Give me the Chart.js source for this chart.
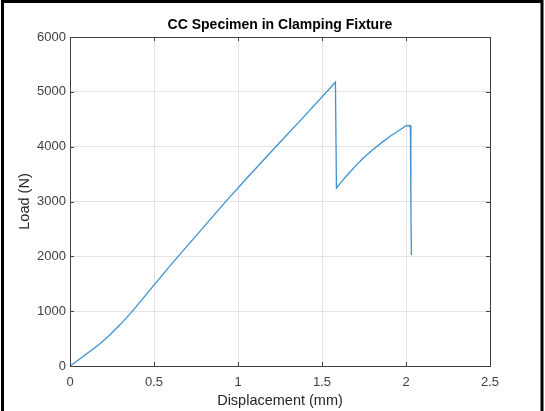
<!DOCTYPE html>
<html>
<head>
<meta charset="utf-8">
<script src="https://cdn.jsdelivr.net/npm/chart.js@4/dist/chart.umd.min.js"></script>
<style>
  html, body { margin: 0; padding: 0; background: #fff; }
  #wrap { position: relative; width: 545px; height: 411px; }
</style>
</head>
<body>
<div id="wrap"><canvas id="plot" width="545" height="411"></canvas></div>
<script>
// valores
const displacement = [0, 0.04, 0.083, 0.13, 0.18, 0.24, 0.3, 0.36, 0.43, 0.5, 0.58, 0.653, 0.791, 0.932, 1.052,
  1.218, 1.387, 1.58,
  1.586, 1.62, 1.66, 1.70, 1.74, 1.80, 1.863, 1.91, 1.962, 1.985, 1.998, 2.026, 2.029, 2.032];
const load = [0, 85, 185, 290, 410, 575, 760, 960, 1215, 1475, 1770, 2030, 2520, 3015, 3425,
  3975, 4530, 5175,
  3245, 3375, 3515, 3650, 3775, 3940, 4092, 4198, 4303, 4350, 4380, 4386, 3000, 2024];
const xTicks = [0, 0.5, 1, 1.5, 2, 2.5];
const yTicks = [0, 1000, 2000, 3000, 4000, 5000, 6000];

const points = displacement.map((d, i) => ({ x: d, y: load[i] }));
const FONT = 'Liberation Sans, Arial, Helvetica, sans-serif';

// marco exterior, titulo, caja de ejes y marcas hacia dentro (estilo MATLAB)
const matlabBox = {
  id: 'matlabBox',
  afterDatasetsDraw(chart) {
    const { ctx, chartArea: a, scales } = chart;
    ctx.save();
    ctx.strokeStyle = '#404040';
    ctx.lineWidth = 1;
    ctx.strokeRect(a.left + 0.5, a.top + 0.5, a.right - a.left, a.bottom - a.top);
    ctx.beginPath();
    xTicks.forEach(v => {
      const px = Math.round(scales.x.getPixelForValue(v)) + 0.5;
      ctx.moveTo(px, a.bottom); ctx.lineTo(px, a.bottom - 4);
      ctx.moveTo(px, a.top); ctx.lineTo(px, a.top + 4);
    });
    yTicks.forEach(v => {
      const py = Math.round(scales.y.getPixelForValue(v)) + 0.5;
      ctx.moveTo(a.left, py); ctx.lineTo(a.left + 4, py);
      ctx.moveTo(a.right, py); ctx.lineTo(a.right - 4, py);
    });
    ctx.stroke();

    ctx.fillStyle = '#000';
    ctx.font = 'bold 14px ' + FONT;
    ctx.textAlign = 'center';
    ctx.textBaseline = 'middle';
    ctx.fillText('CC Specimen in Clamping Fixture', (a.left + a.right) / 2, 25);

    ctx.strokeStyle = '#000';
    ctx.lineWidth = 3;
    ctx.beginPath();
    ctx.moveTo(2.5, 411);
    ctx.lineTo(2.5, 1.5);
    ctx.lineTo(542, 1.5);
    ctx.lineTo(542, 411);
    ctx.stroke();
    ctx.restore();
  }
};

new Chart(document.getElementById('plot').getContext('2d'), {
  type: 'scatter',
  data: {
    datasets: [{
      data: points,
      showLine: true,
      borderColor: '#3d92d2',
      borderWidth: 1.3,
      pointRadius: 0,
      tension: 0,
      fill: false
    }]
  },
  options: {
    responsive: false,
    animation: false,
    layout: { padding: { left: 0, top: 37, right: 55, bottom: 0 } },
    plugins: {
      legend: { display: false },
      tooltip: { enabled: false },
      title: { display: false }
    },
    scales: {
      x: {
        type: 'linear',
        min: 0,
        max: 2.5,
        afterFit: s => { s.height = 45; },
        afterBuildTicks: s => { s.ticks = xTicks.map(v => ({ value: v })); },
        ticks: {
          color: '#404040',
          font: { family: FONT, size: 13 },
          padding: 9,
          maxRotation: 0,
          callback: v => String(v)
        },
        grid: { color: '#e3e3e3', drawTicks: false },
        border: { display: false },
        title: {
          display: true,
          text: 'Displacement (mm)',
          color: '#262626',
          font: { family: FONT, size: 14.5 },
          padding: { top: 0, bottom: 1 }
        }
      },
      y: {
        type: 'linear',
        min: 0,
        max: 6000,
        afterFit: s => { s.width = 70; },
        afterBuildTicks: s => { s.ticks = yTicks.map(v => ({ value: v })); },
        ticks: {
          color: '#404040',
          font: { family: FONT, size: 13 },
          padding: 4,
          callback: v => String(v)
        },
        grid: { color: '#e3e3e3', drawTicks: false },
        border: { display: false },
        title: {
          display: true,
          text: 'Load (N)',
          color: '#262626',
          font: { family: FONT, size: 14.5 },
          padding: { top: 16, bottom: 0 }
        }
      }
    }
  },
  plugins: [matlabBox]
});
</script>
</body>
</html>
